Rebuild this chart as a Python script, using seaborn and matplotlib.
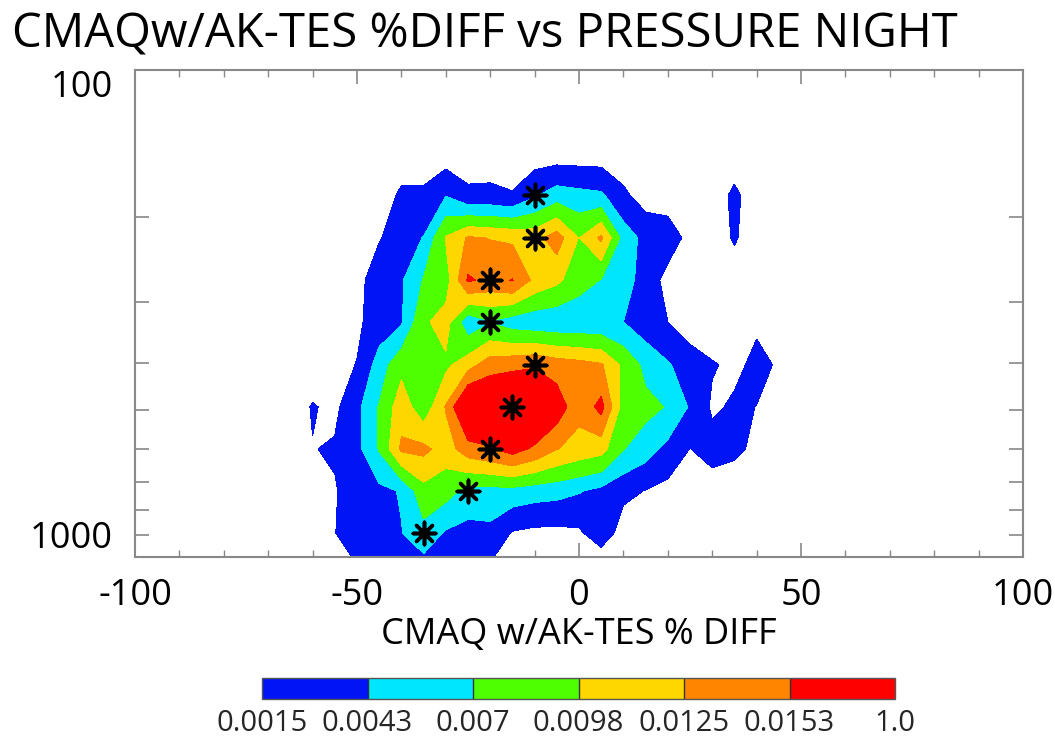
import numpy as np
import matplotlib
matplotlib.use("Agg")
import matplotlib.pyplot as plt
import matplotlib.ticker as mticker
from matplotlib.colors import ListedColormap, BoundaryNorm
import seaborn as sns

# ---------------- data ----------------
x_pct = [-70, -65, -60, -55, -50, -45, -40, -35, -30, -25, -20, -15, -10,
         -5, 0, 5, 10, 15, 20, 25, 30, 35, 40, 45, 50]
pressure = [148, 181, 221, 270, 329, 403, 492, 600, 732, 892, 1000]

# density per grid node, in units of 1e-4
row_148 = [0, 0, 0, 0, 0, 0, 0, 0, 0, 0, 0, 0, 0, 0, 0, 0, 0, 0, 0, 0, 0, 0, 0, 0, 0]
row_181 = [0, 0, 0, 0, 0, 0, 20, 20, 42, 21, 22, 17, 40, 57, 52, 48, 20, 4, 0, 0, 0, 21, 0, 0, 0]
row_221 = [0, 0, 0, 0, 0, 13, 30, 44, 100, 128, 124, 120, 115, 138, 97, 130, 59, 34, 32, 5, 0, 18, 0, 0, 0]
row_270 = [0, 0, 0, 0, 5, 32, 40, 72, 85, 157, 145, 154, 118, 104, 82, 69, 50, 36, 3, 0, 0, 0, 0, 0, 0]
row_329 = [0, 0, 0, 0, 10, 28, 40, 93, 110, 50, 68, 55, 50, 48, 48, 47, 43, 28, 15, 2, 0, 0, 12, 0, 0]
row_403 = [0, 0, 0, 5, 16, 55, 90, 73, 92, 114, 140, 145, 150, 140, 135, 128, 92, 62, 46, 28, 17, 10, 20, 13, 0]
row_492 = [0, 0, 17, 9, 36, 72, 114, 80, 127, 200, 195, 200, 190, 170, 133, 162, 85, 78, 68, 40, 11, 18.5, 14.7, 0, 0]
row_600 = [0, 0, 14, 18, 35, 72, 130, 132, 112, 140, 150, 165, 148, 126, 115, 108, 71, 55, 35, 14.5, 26, 20, 10, 0, 0]
row_732 = [0, 0, 0, 12.7, 30, 36, 45, 88, 80, 62, 60, 60, 55, 52, 45, 35, 22, 14, 6, 0, 0, 0, 0, 0, 0]
row_892 = [0, 0, 0, 14, 35, 38, 42, 60, 40, 33, 36, 13, 8, 8, 10, 35.7, 0, 0, 0, 0, 0, 0, 0, 0, 0]
row_1000 = [0, 0, 0, 5, 18, 30, 32, 40, 30, 25, 17, 5, 0, 0, 0, 0, 0, 0, 0, 0, 0, 0, 0, 0, 0]

contour_levels = [0.0015, 0.0043, 0.007, 0.0098, 0.0125, 0.0153, 1.0]
level_labels = ["0.0015", "0.0043", "0.007", "0.0098", "0.0125", "0.0153", "1.0"]
level_colors = ["#0014F5", "#00E6FF", "#4DFF00", "#FFD700", "#FF8400", "#FF0000"]

star_x = [-10, -10, -20, -20, -10, -15, -20, -25, -35]
star_p = [181, 221, 270, 329, 403, 492, 600, 732, 892]

title_text = "CMAQw/AK-TES %DIFF vs PRESSURE NIGHT"
xlabel_text = "CMAQ w/AK-TES % DIFF"

# ---------------- figure ----------------
sns.set_style("ticks")
plt.rcParams["font.family"] = ["Open Sans", "DejaVu Sans"]
plt.rcParams["text.color"] = "black"
plt.rcParams["axes.labelcolor"] = "black"

W, H = 1055, 738
fig = plt.figure(figsize=(W / 100, H / 100), dpi=100)
ax = fig.add_axes([135 / W, 1 - 557 / H, 888 / W, 487 / H])

density = np.array([row_148, row_181, row_221, row_270, row_329, row_403,
                    row_492, row_600, row_732, row_892, row_1000]) * 1e-4
X, P = np.meshgrid(np.array(x_pct, float), np.array(pressure, float))

cmap = ListedColormap(level_colors)
norm = BoundaryNorm(contour_levels, cmap.N)
cs = ax.contourf(X, P, density, levels=contour_levels, cmap=cmap, norm=norm)

sns.scatterplot(x=star_x, y=star_p, ax=ax, marker=(8, 2, 0), s=260,
                color="black", linewidth=2.6, zorder=5, legend=False)

ax.set_yscale("log")
ax.set_xlim(-100, 100)
ax.set_ylim(1000, 100)

ax.xaxis.set_major_locator(mticker.FixedLocator([-100, -50, 0, 50, 100]))
ax.xaxis.set_minor_locator(mticker.MultipleLocator(10))
ax.yaxis.set_major_locator(mticker.FixedLocator([100, 1000]))
ax.yaxis.set_minor_locator(mticker.FixedLocator([200, 300, 400, 500, 600, 700, 800, 900]))
ax.yaxis.set_major_formatter(mticker.FixedFormatter(["100", "1000"]))
ax.yaxis.set_minor_formatter(mticker.NullFormatter())
ax.xaxis.set_major_formatter(mticker.FixedFormatter(["-100", "-50", "0", "50", "100"]))

spine_col = "#888888"
for s in ax.spines.values():
    s.set_color(spine_col)
    s.set_linewidth(1.5)

ax.tick_params(axis="both", which="both", direction="in", top=True, right=True,
               colors=spine_col, labelcolor="black")
ax.tick_params(axis="x", which="major", length=10, width=1.2, labelsize=26, pad=15)
ax.tick_params(axis="x", which="minor", length=5, width=1.0)
ax.tick_params(axis="y", which="major", length=0, labelsize=26, pad=16)
ax.tick_params(axis="y", which="minor", length=10, width=1.2)

ylabels = ax.get_yticklabels()
ylabels[0].set_va("top")
ylabels[1].set_va("bottom")

ax.set_xlabel(xlabel_text, fontsize=26, labelpad=2)
fig.text(12 / W, 1 - 35 / H, title_text, fontsize=34, ha="left", va="center")

# colorbar
cax = fig.add_axes([262 / W, 1 - 699 / H, 633 / W, 21 / H])
cb = fig.colorbar(cs, cax=cax, orientation="horizontal", ticks=contour_levels,
                  spacing="uniform", drawedges=True)
cb.set_ticklabels(level_labels)
cb.ax.tick_params(length=0, labelsize=21, pad=7)
cb.outline.set_edgecolor("#555555")
cb.outline.set_linewidth(1.0)
cb.dividers.set_color("#333333")
cb.dividers.set_linewidth(1.0)

fig.savefig("out.png", dpi=100)
